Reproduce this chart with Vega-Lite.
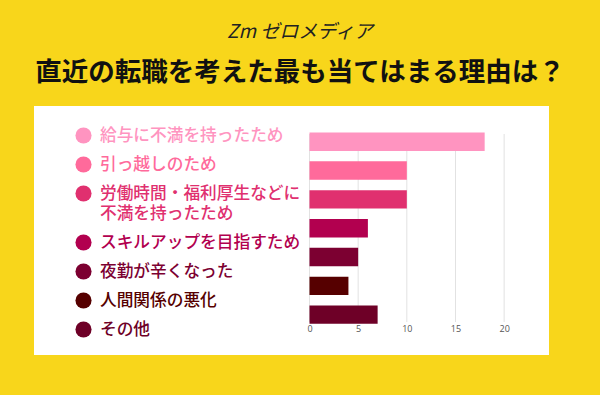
{
  "$schema": "https://vega.github.io/schema/vega-lite/v6.json",
  "width": 515,
  "height": 249,
  "autosize": {"type": "none"},
  "padding": {"left": 34, "top": 106, "right": 51, "bottom": 40},
  "background": "#F8D61B",
  "title": {
    "text": "Zm ゼロメディア",
    "subtitle": "直近の転職を考えた最も当てはまる理由は？",
    "anchor": "middle",
    "dx": 8.5,
    "offset": 20,
    "font": "Noto Sans CJK JP",
    "fontSize": 19,
    "fontWeight": 400,
    "fontStyle": "italic",
    "color": "#222222",
    "subtitleFont": "Noto Sans CJK JP",
    "subtitleFontSize": 26.5,
    "subtitleFontWeight": 700,
    "subtitleColor": "#111111",
    "subtitlePadding": 18
  },
  "datasets": {
    "reasons": [
      {"reason": "給与に不満を持ったため", "count": 18},
      {"reason": "引っ越しのため", "count": 10},
      {"reason": "労働時間・福利厚生などに\n不満を持ったため", "count": 10},
      {"reason": "スキルアップを目指すため", "count": 6},
      {"reason": "夜勤が辛くなった", "count": 5},
      {"reason": "人間関係の悪化", "count": 4},
      {"reason": "その他", "count": 7}
    ],
    "grid": [{"tick": 0}, {"tick": 5}, {"tick": 10}, {"tick": 15}, {"tick": 20}]
  },
  "layer": [
    {
      "data": {"name": "grid"},
      "mark": {"type": "tick", "orient": "vertical", "color": "#E2E2E2", "thickness": 1, "size": 188, "yOffset": -2.6, "opacity": 1},
      "encoding": {
        "x": {"field": "tick", "type": "quantitative"}
      }
    },
    {
      "data": {"name": "reasons"},
      "mark": {"type": "bar"},
      "encoding": {
        "y": {
          "field": "reason",
          "type": "nominal",
          "axis": null,
          "scale": {
            "domain": ["給与に不満を持ったため", "引っ越しのため", "労働時間・福利厚生などに\n不満を持ったため", "スキルアップを目指すため", "夜勤が辛くなった", "人間関係の悪化", "その他"],
            "paddingInner": 0.362,
            "paddingOuter": 1.091,
            "align": 0.46
          }
        },
        "x": {
          "field": "count",
          "type": "quantitative",
          "scale": {"domain": [-28.31, 24.61], "nice": false, "zero": false},
          "axis": {
            "orient": "bottom",
            "offset": -33.3,
            "values": [0, 5, 10, 15, 20],
            "domain": false,
            "ticks": false,
            "grid": false,
            "title": null,
            "labelFont": "Open Sans",
            "labelFontSize": 9,
            "labelColor": "#555555",
            "labelPadding": 3
          }
        },
        "color": {
          "field": "reason",
          "type": "nominal",
          "scale": {
            "domain": ["給与に不満を持ったため", "引っ越しのため", "労働時間・福利厚生などに\n不満を持ったため", "スキルアップを目指すため", "夜勤が辛くなった", "人間関係の悪化", "その他"],
            "range": ["#FF94C0", "#FF6A9B", "#E0306F", "#B2004F", "#7C0031", "#560000", "#6E0027"]
          },
          "legend": {
            "orient": "top-left",
            "offset": 21,
            "padding": 0,
            "title": null,
            "symbolType": "circle",
            "symbolSize": 260,
            "symbolStrokeWidth": 0,
            "symbolOpacity": 1,
            "symbolOffset": 20,
            "labelFont": "Noto Sans CJK JP",
            "labelFontSize": 16.7,
            "labelFontWeight": 500,
            "labelOffset": 8,
            "labelLimit": 400,
            "rowPadding": 11,
            "labelExpr": "split(datum.label, '\\n')",
            "labelColor": {"expr": "scale('color', datum.value)"},
            "encode": {"labels": {"update": {"lineHeight": {"value": 20}}}}
          }
        }
      }
    }
  ],
  "config": {
    "view": {"fill": "white", "stroke": null}
  }
}
